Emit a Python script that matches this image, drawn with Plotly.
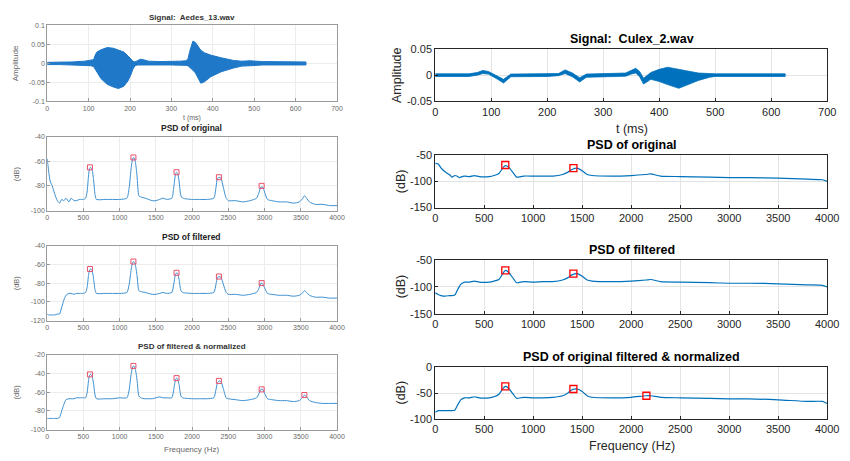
import plotly.graph_objects as go

W, H = 850, 461

# ---------------- DATA ----------------
# Aedes_13 waveform envelope (ms, amplitude)
aedes_t = [0, 30, 60, 90, 105, 112, 116, 120, 130, 145, 160, 172, 185, 195, 202, 207, 212, 218, 225, 232, 245,
           270, 300, 320, 335, 340, 345, 352, 358, 365, 371, 380, 395, 420, 450, 470, 490, 520, 560, 600, 625]
aedes_upper = [0.003, 0.003, 0.004, 0.006, 0.008, 0.010, 0.022, 0.030, 0.036, 0.042, 0.040, 0.036, 0.030, 0.020,
               0.012, 0.006, 0.004, 0.008, 0.011, 0.010, 0.006, 0.005, 0.005, 0.006, 0.007, 0.012, 0.035, 0.059,
               0.055, 0.045, 0.035, 0.028, 0.022, 0.015, 0.008, 0.006, 0.007, 0.005, 0.004, 0.004, 0.004]
aedes_lower = [-0.003, -0.003, -0.004, -0.005, -0.006, -0.008, -0.014, -0.020, -0.040, -0.055, -0.062, -0.066,
               -0.060, -0.046, -0.030, -0.015, -0.006, -0.004, -0.004, -0.004, -0.004, -0.004, -0.004, -0.004,
               -0.005, -0.006, -0.010, -0.018, -0.025, -0.038, -0.052, -0.048, -0.035, -0.022, -0.012, -0.007,
               -0.006, -0.004, -0.004, -0.004, -0.004]

# Culex_2 waveform envelope
culex_t = [0, 60, 75, 85, 95, 110, 122, 135, 200, 220, 232, 245, 258, 270, 340, 350, 358, 365, 372, 385, 400,
           415, 435, 450, 470, 490, 500, 625]
culex_upper = [0.0025, 0.0025, 0.005, 0.009, 0.007, -0.001, -0.008, 0.002, 0.0025, 0.003, 0.010, 0.004, -0.005,
               0.002, 0.004, 0.009, 0.013, 0.007, -0.006, 0.005, 0.011, 0.015, 0.011, 0.007, 0.004, 0.003, 0.0025,
               0.0025]
culex_lower = [-0.0025, -0.0025, 0.0, 0.003, 0.002, -0.007, -0.015, -0.003, -0.0025, -0.001, 0.003, -0.003,
               -0.013, -0.004, -0.002, 0.002, 0.004, -0.003, -0.017, -0.008, -0.012, -0.018, -0.025, -0.018,
               -0.010, -0.004, -0.0025, -0.0025]

# Aedes PSDs (Hz, dB)
freq_a = [0, 20, 40, 70, 100, 140, 170, 200, 230, 260, 300, 330, 370, 400, 450, 500, 530, 550, 570, 585, 600,
          620, 640, 660, 680, 800, 900, 1000, 1100, 1130, 1160, 1180, 1195, 1215, 1240, 1265, 1290, 1350, 1400,
          1450, 1500, 1550, 1600, 1650, 1720, 1745, 1770, 1785, 1800, 1820, 1845, 1870, 2000, 2100, 2200, 2300,
          2330, 2350, 2375, 2400, 2430, 2470, 2500, 2600, 2700, 2800, 2890, 2920, 2950, 2975, 3000, 3040, 3100,
          3200, 3300, 3400, 3480, 3530, 3550, 3580, 3620, 3700, 3800, 3900, 4000]
psd_a_orig = [-58, -68, -76, -80, -86, -92, -94, -91, -92, -90, -93, -90, -92, -92, -91, -91, -90, -85, -72, -66,
              -65, -67, -75, -87, -91, -91, -91, -91, -90, -82, -65, -58, -57, -60, -72, -88, -89, -90, -91, -92,
              -92, -91, -90, -91, -90, -82, -71, -69, -70, -76, -88, -90, -91, -91, -91, -90, -81, -74, -73, -74,
              -81, -90, -92, -92, -93, -92, -90, -86, -81, -81, -85, -91, -92, -93, -93, -94, -93, -90, -88, -90,
              -93, -95, -95, -96, -96]
psd_a_filt = [-113, -114, -114, -114, -114, -113, -113, -106, -98, -93, -91, -91, -92, -91, -91, -91, -90, -85,
              -72, -66, -65, -67, -75, -87, -91, -91, -91, -91, -90, -82, -65, -58, -57, -60, -72, -88, -89, -90,
              -91, -92, -92, -91, -90, -91, -90, -82, -71, -69, -70, -76, -88, -90, -91, -91, -91, -90, -81, -74,
              -73, -74, -81, -90, -92, -92, -93, -92, -90, -86, -80, -81, -85, -91, -92, -93, -93, -94, -93, -90,
              -88, -90, -93, -95, -95, -96, -96]
psd_a_norm = [-88, -88, -88, -88, -88, -88, -87, -80, -73, -68, -67, -67, -67, -66, -66, -66, -66, -61, -48, -42,
              -41, -43, -51, -63, -67, -67, -67, -66, -66, -58, -40, -33, -32, -35, -47, -64, -66, -67, -67, -67,
              -66, -65, -66, -66, -66, -58, -47, -45, -46, -52, -64, -66, -67, -67, -67, -66, -57, -50, -48, -49,
              -56, -66, -67, -68, -69, -68, -66, -62, -57, -57, -61, -67, -68, -69, -69, -70, -69, -65, -63, -65,
              -69, -71, -72, -72, -72]
peak_a_f = [590, 1190, 1785, 2370, 2960]
peak_a_orig = [-65, -57, -69, -73, -80]
peak_a_filt = [-65, -57, -69, -73, -80]
peak_a_norm_f = [590, 1190, 1785, 2370, 2960, 3550]
peak_a_norm = [-41, -32, -45, -48, -57, -63]

# Culex PSDs
freq_c = [0, 30, 60, 100, 150, 170, 200, 220, 250, 260, 300, 350, 400, 450, 550, 600, 650, 700, 720, 750, 800,
          830, 900, 1000, 1100, 1200, 1300, 1350, 1400, 1450, 1500, 1550, 1600, 1800, 2000, 2150, 2200, 2300,
          2500, 2800, 3000, 3200, 3500, 3800, 3950, 4000]
psd_c_orig = [-66, -67, -75, -82, -88, -92, -89, -90, -93, -92, -90, -91, -89, -91, -91, -89, -85, -72, -70, -73,
              -85, -92, -90, -90, -90, -90, -87, -83, -77, -75, -80, -87, -89, -90, -89, -87, -86, -90, -91, -92,
              -93, -93, -94, -96, -97, -100]
psd_c_filt = [-111, -114, -116, -117, -116, -116, -115, -108, -98, -95, -91, -91, -89, -91, -91, -89, -86, -72,
              -69, -73, -85, -92, -90, -91, -90, -90, -87, -83, -77, -75, -80, -87, -89, -90, -89, -87, -86, -90,
              -91, -92, -93, -93, -94, -96, -97, -100]
psd_c_norm = [-87, -84, -84, -84, -84, -84, -83, -76, -66, -63, -59, -59, -57, -59, -59, -57, -52, -39, -37, -41,
              -53, -60, -58, -59, -59, -58, -55, -50, -43, -42, -47, -55, -58, -59, -58, -55, -55, -58, -59, -60,
              -61, -61, -63, -66, -66, -70]
peak_c_f = [715, 1410]
peak_c_orig = [-69, -75]
peak_c_filt = [-69, -75]
peak_c_norm_f = [715, 1410, 2155]
peak_c_norm = [-37, -42, -55]

# tick labels
t_ticks = [0, 100, 200, 300, 400, 500, 600, 700]
f_ticks = [0, 500, 1000, 1500, 2000, 2500, 3000, 3500, 4000]
amp_a_ticks = [-0.1, -0.05, 0, 0.05, 0.1]
amp_a_labels = ["-0.1", "-0.05", "0", "0.05", "0.1"]
db_a1_ticks = [-100, -80, -60, -40]
db_a2_ticks = [-120, -100, -80, -60, -40]
db_a3_ticks = [-100, -80, -60, -40, -20]
amp_c_ticks = [-0.05, 0, 0.05]
amp_c_labels = ["-0.05", "0", "0.05"]
db_c1_ticks = [-150, -100, -50]
db_c3_ticks = [-100, -50, 0]

# ---------------- STYLE / LAYOUT ----------------
BLUE = "#0072BD"
LBLUE = "#3c8fd0"
RED = "#ff0000"
FONT = "Liberation Sans, Arial, sans-serif"

fig = go.Figure()

def px_x(p):
    return p / W

def px_y(p):
    return 1 - p / H

panels = [
    (1, 45, 340, 20, 98, "L"),
    (2, 45, 340, 134, 210, "L"),
    (3, 45, 340, 246, 323, "L"),
    (4, 45, 340, 358, 435, "L"),
    (5, 440, 839, 44, 98, "R"),
    (6, 440, 839, 153, 207, "R"),
    (7, 440, 839, 261, 316, "R"),
    (8, 440, 839, 371, 424, "R"),
]

axis_specs = {
    1: (t_ticks, [0, 700], amp_a_ticks, amp_a_labels, [-0.1, 0.1]),
    2: (f_ticks, [0, 4000], db_a1_ticks, [str(v) for v in db_a1_ticks], [-100, -40]),
    3: (f_ticks, [0, 4000], db_a2_ticks, [str(v) for v in db_a2_ticks], [-120, -40]),
    4: (f_ticks, [0, 4000], db_a3_ticks, [str(v) for v in db_a3_ticks], [-100, -20]),
    5: (t_ticks, [0, 700], amp_c_ticks, amp_c_labels, [-0.05, 0.05]),
    6: (f_ticks, [0, 4000], db_c1_ticks, [str(v) for v in db_c1_ticks], [-150, -50]),
    7: (f_ticks, [0, 4000], db_c1_ticks, [str(v) for v in db_c1_ticks], [-150, -50]),
    8: (f_ticks, [0, 4000], db_c3_ticks, [str(v) for v in db_c3_ticks], [-100, 0]),
}

layout = dict(
    width=W, height=H, margin=dict(l=0, r=0, t=0, b=0),
    paper_bgcolor="white", plot_bgcolor="white", showlegend=False,
    font=dict(family=FONT),
)

for n, x0, x1, y0, y1, side in panels:
    xt, xr, yt, ylbl, yr = axis_specs[n]
    if side == "L":
        lc, gc, tc, fs = "#9a9a9a", "#ececec", "#6a6a6a", 7
    else:
        lc, gc, tc, fs = "#262626", "#e3e3e3", "#262626", 11
    sfx = "" if n == 1 else str(n)
    layout["xaxis" + sfx] = dict(
        domain=[px_x(x0), px_x(x1)], anchor="y" + sfx, range=xr,
        tickvals=xt, ticktext=[str(v) for v in xt], showgrid=True, gridcolor=gc, gridwidth=1,
        showline=True, linecolor=lc, linewidth=1, mirror=True, zeroline=False,
        ticks="inside", ticklen=3, tickcolor=lc, tickfont=dict(size=fs, color=tc, family=FONT),
        fixedrange=True,
    )
    layout["yaxis" + sfx] = dict(
        domain=[px_y(y1), px_y(y0)], anchor="x" + sfx, range=yr,
        tickvals=yt, ticktext=ylbl, showgrid=True, gridcolor=gc, gridwidth=1,
        showline=True, linecolor=lc, linewidth=1, mirror=True, zeroline=False,
        ticks="inside", ticklen=3, tickcolor=lc, tickfont=dict(size=fs, color=tc, family=FONT),
        fixedrange=True,
    )

fig.update_layout(**layout)

def ax(n):
    return ("x", "y") if n == 1 else ("x" + str(n), "y" + str(n))

# waveforms as filled envelopes
for n, t, up, lo, col, lw in [(1, aedes_t, aedes_upper, aedes_lower, "#1f78c8", 1),
                              (5, culex_t, culex_upper, culex_lower, BLUE, 0.8)]:
    xa, ya = ax(n)
    fig.add_trace(go.Scatter(
        x=t + t[::-1], y=up + lo[::-1], fill="toself", fillcolor=col,
        line=dict(color=col, width=lw), mode="lines", xaxis=xa, yaxis=ya, hoverinfo="skip"))

# PSD curves
psd_sets = [
    (2, freq_a, psd_a_orig, peak_a_f, peak_a_orig, "L"),
    (3, freq_a, psd_a_filt, peak_a_f, peak_a_filt, "L"),
    (4, freq_a, psd_a_norm, peak_a_norm_f, peak_a_norm, "L"),
    (6, freq_c, psd_c_orig, peak_c_f, peak_c_orig, "R"),
    (7, freq_c, psd_c_filt, peak_c_f, peak_c_filt, "R"),
    (8, freq_c, psd_c_norm, peak_c_norm_f, peak_c_norm, "R"),
]
for n, f, p, pf, pv, side in psd_sets:
    xa, ya = ax(n)
    if side == "L":
        lcol, lw, msz, mcol, mlw = LBLUE, 1, 5, "#e8506a", 1
    else:
        lcol, lw, msz, mcol, mlw = BLUE, 1.2, 7, RED, 1.3
    fig.add_trace(go.Scatter(x=f, y=p, mode="lines", line=dict(color=lcol, width=lw, shape="spline", smoothing=0.6),
                             xaxis=xa, yaxis=ya, hoverinfo="skip"))
    fig.add_trace(go.Scatter(x=pf, y=pv, mode="markers",
                             marker=dict(symbol="square-open", size=msz, color=mcol, line=dict(width=mlw)),
                             xaxis=xa, yaxis=ya, hoverinfo="skip"))

def txt(x, y, s, size, color, bold=False, angle=0):
    fig.add_annotation(x=px_x(x), y=px_y(y), xref="paper", yref="paper", text=("<b>%s</b>" % s) if bold else s,
                       showarrow=False, font=dict(size=size, color=color, family=FONT), textangle=angle,
                       xanchor="center", yanchor="middle")

# left titles/labels
txt(192, 12, "Signal:  Aedes_13.wav", 8, "#333333", bold=True)
txt(192, 125, "PSD of original", 8.5, "#222222", bold=True)
txt(192, 237, "PSD of filtered", 8.5, "#222222", bold=True)
txt(192, 350, "PSD of filtered &amp; normalized", 8, "#333333", bold=True)
txt(192, 115, "t (ms)", 7, "#666666")
txt(192, 455, "Frequency (Hz)", 8, "#666666")
txt(13, 59, "Amplitude", 8, "#666666", angle=-90)
for yc in [172, 284, 396]:
    txt(14, yc, "(dB)", 7.5, "#666666", angle=-90)

# right titles/labels
txt(640, 34, "Signal:  Culex_2.wav", 12.5, "#000000", bold=True)
txt(640, 143, "PSD of original", 12.5, "#000000", bold=True)
txt(640, 251, "PSD of filtered", 12.5, "#000000", bold=True)
txt(640, 360, "PSD of original filtered &amp; normalized", 12.5, "#000000", bold=True)
txt(640, 126, "t (ms)", 12.5, "#262626")
txt(640, 452, "Frequency (Hz)", 12.5, "#262626")
txt(401, 71, "Amplitude", 12.5, "#262626", angle=-90)
for yc in [180, 288, 397]:
    txt(405, yc, "(dB)", 12.5, "#262626", angle=-90)

fig.write_html("out.html")
